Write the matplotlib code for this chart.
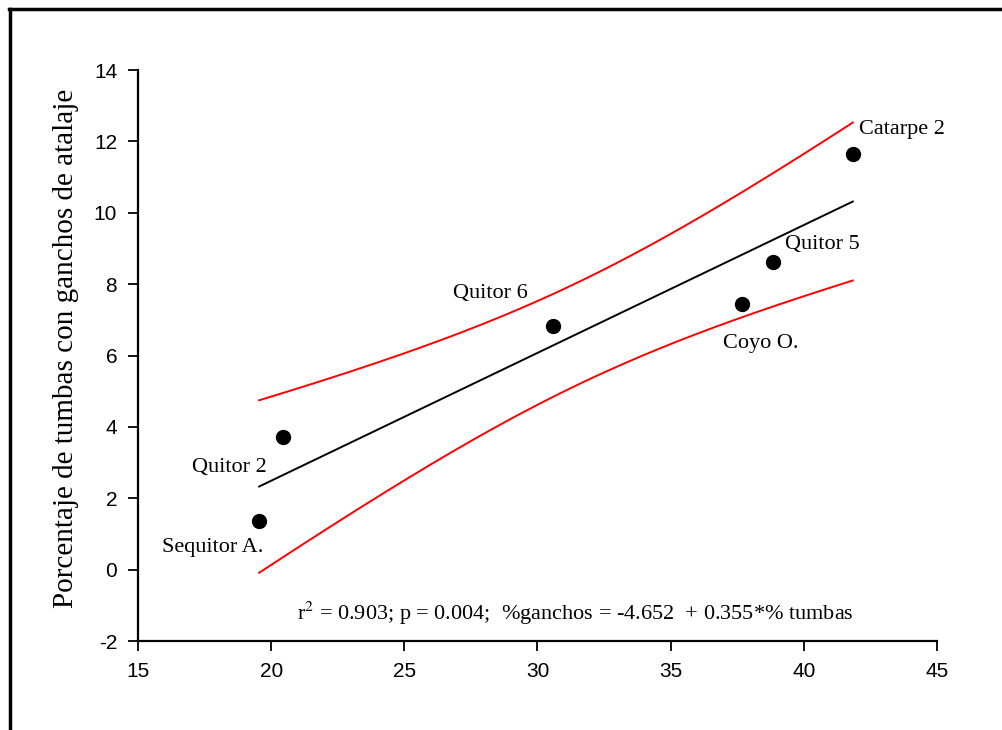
import numpy as np
import matplotlib
matplotlib.use("Agg")
import matplotlib.pyplot as plt
from matplotlib.lines import Line2D

# Data
sites = ["Sequitor A.", "Quitor 2", "Quitor 6", "Coyo O.", "Quitor 5", "Catarpe 2"]
pct_tumbas = [19.55, 20.45, 30.6, 37.67, 38.83, 41.84]
pct_ganchos = [1.37, 3.72, 6.83, 7.45, 8.62, 11.65]
label_x = [15.9, 17.03, 26.84, 36.95, 39.29, 42.07]
label_y = [0.61, 2.85, 7.75, 6.33, 9.10, 12.32]
x_ticks = [15, 20, 25, 30, 35, 40, 45]
y_ticks = [-2, 0, 2, 4, 6, 8, 10, 12, 14]
stats_text = "r$^2$ = 0.903; p = 0.004;  %ganchos = -4.652  + 0.355*% tumbas"
ylabel = "Porcentaje de tumbas con ganchos de atalaje"

plt.rcParams['mathtext.fontset'] = 'stix'
plt.rcParams['axes.unicode_minus'] = False

x = np.array(pct_tumbas)
y = np.array(pct_ganchos)
n = len(x)
slope, intercept = np.polyfit(x, y, 1)
resid = y - (intercept + slope * x)
s = np.sqrt(np.sum(resid**2) / (n - 2))
sxx = np.sum((x - x.mean())**2)
t_crit = 2.776  # t(0.975, df=4)
xs = np.linspace(x.min(), x.max(), 200)
fit = intercept + slope * xs
hw = t_crit * s * np.sqrt(1.0 / n + (xs - x.mean())**2 / sxx)

fig = plt.figure(figsize=(10.02, 7.3), dpi=100)
ax = fig.add_axes([0.1377, 0.1219, 0.7974, 0.7822])

ax.plot(xs, fit, color="black", lw=1.4)
ax.plot(xs, fit + hw, color="red", lw=1.4)
ax.plot(xs, fit - hw, color="red", lw=1.4)
ax.scatter(x, y, s=100, color="black", zorder=5)

serif = "Liberation Serif"
for name, lx, ly in zip(sites, label_x, label_y):
    ax.text(lx, ly, name, ha="left", va="center", fontsize=16, family=serif)

ax.text(20.98, -1.24, stats_text, ha="left", va="center", fontsize=16, family=serif)

ax.set_xlim(15, 45)
ax.set_ylim(-2, 14)
ax.set_xticks(x_ticks)
ax.set_yticks(y_ticks)
for sp in ["top", "right"]:
    ax.spines[sp].set_visible(False)
for sp in ["left", "bottom"]:
    ax.spines[sp].set_linewidth(1.6)
ax.tick_params(direction="out", length=7, width=1.3, labelsize=15, pad=8)
for lab in ax.get_xticklabels() + ax.get_yticklabels():
    lab.set_family("Liberation Sans")
ax.set_ylabel(ylabel, fontsize=21, family=serif)
ax.yaxis.set_label_coords(-0.074, 0.512)

# figure frame (left and top edges visible)
fig.add_artist(Line2D([0.0095, 0.0095], [-0.01, 0.9875], transform=fig.transFigure,
                      color="black", lw=2.5))
fig.add_artist(Line2D([0.0085, 1.01], [0.9875, 0.9875], transform=fig.transFigure,
                      color="black", lw=2.5))

fig.savefig("out.png", dpi=100)
